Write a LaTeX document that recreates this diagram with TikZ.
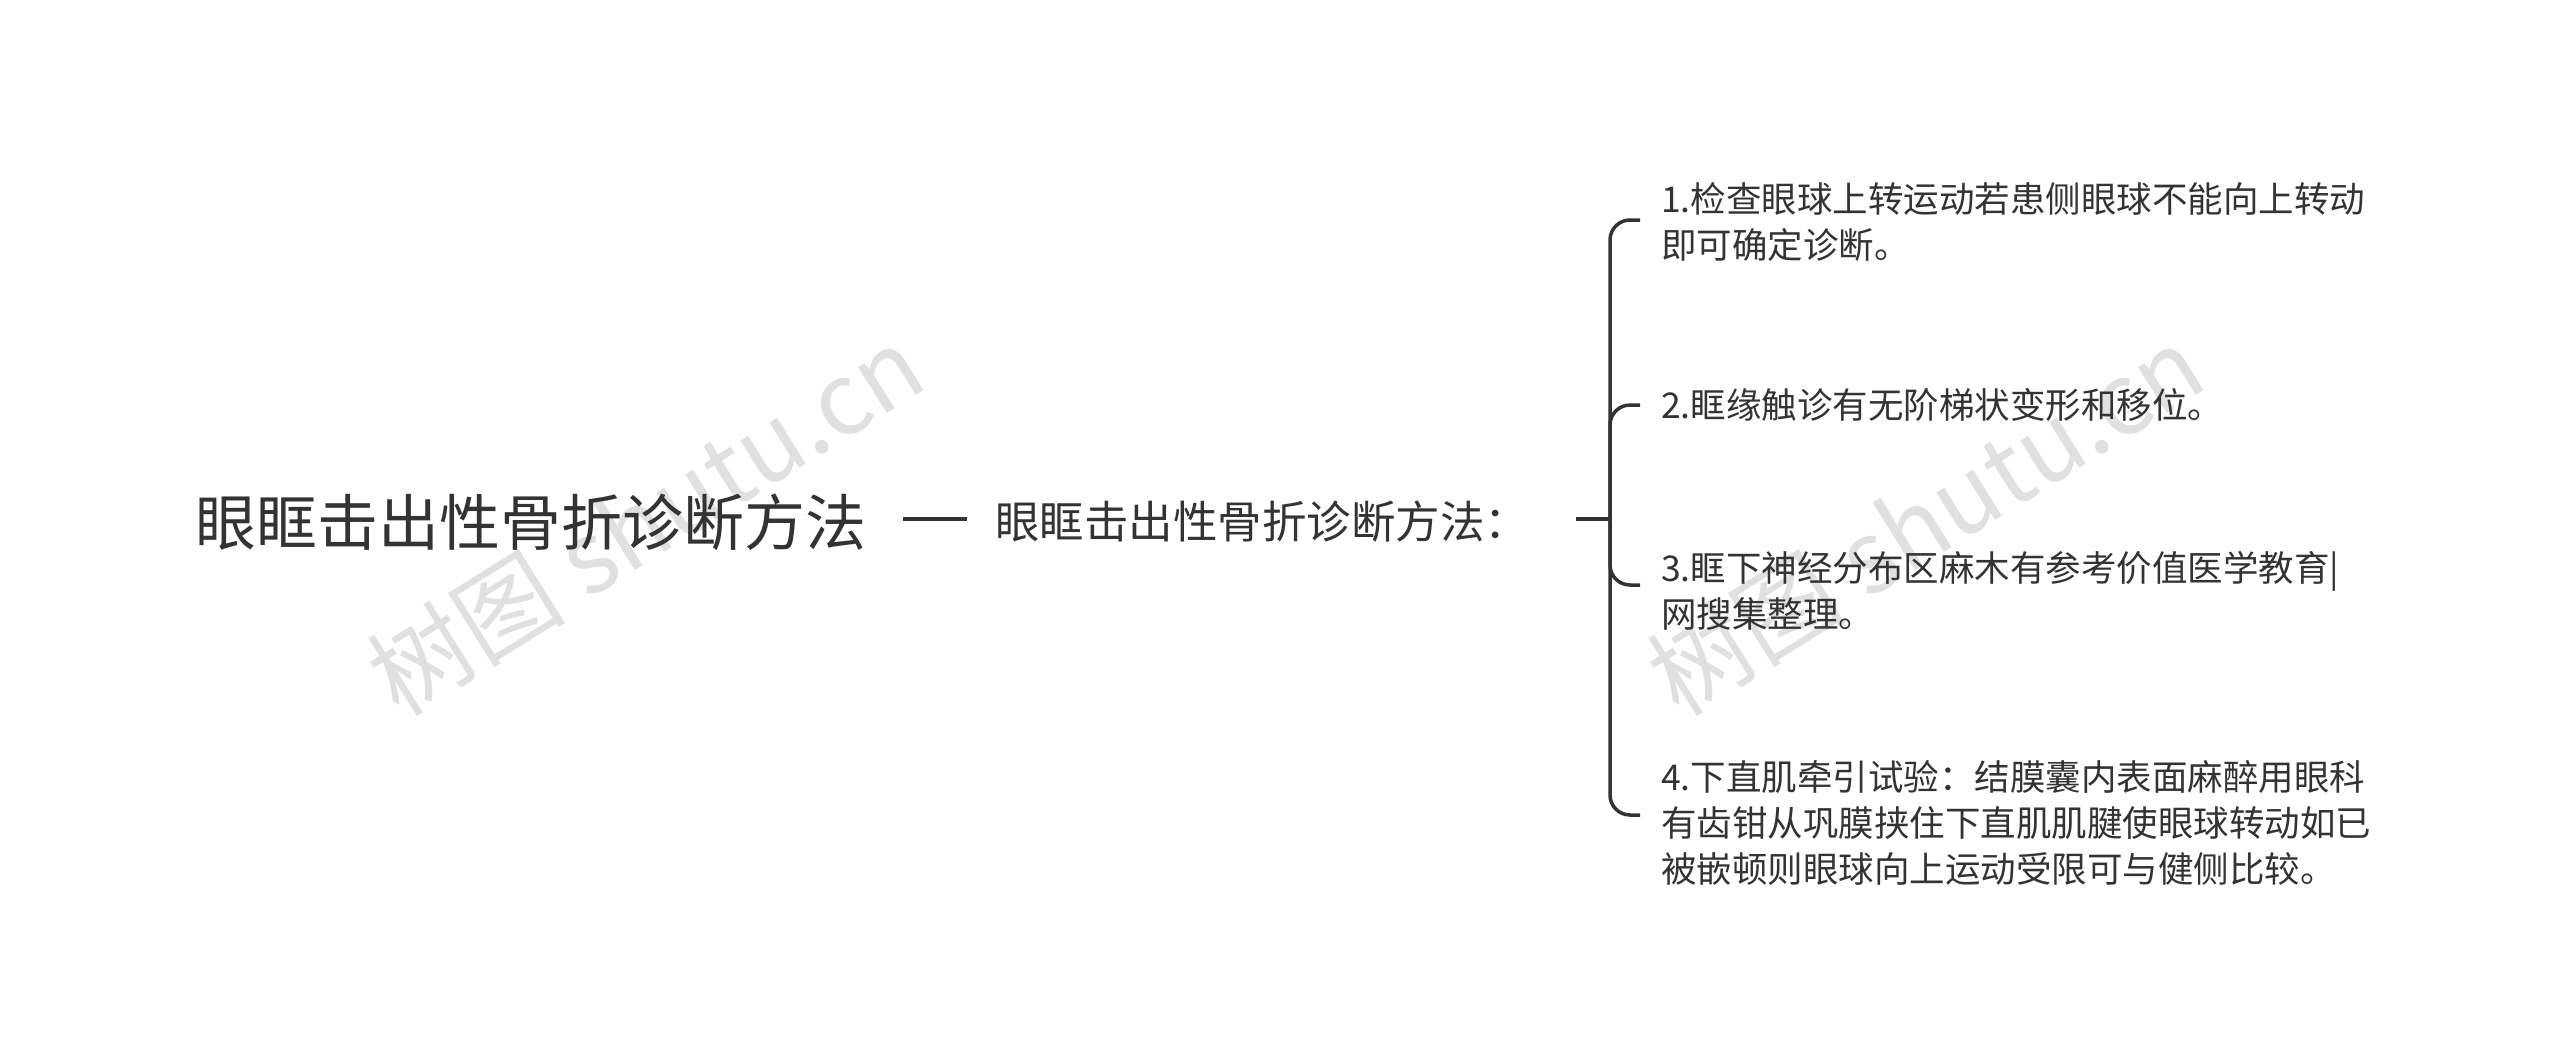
\documentclass[tikz,border=0pt]{standalone}
\usepackage{fontspec}
\setmainfont{Noto Sans CJK SC}
\begin{document}
\begin{tikzpicture}[x=1pt,y=-1pt,
  txt/.style={text=black!80,inner sep=0pt},
  ln/.style={draw=black!80,line width=3.5pt},
  item/.style={txt,anchor=west,align=left,font=\fontsize{35.5}{46}\selectfont},
  wm/.style={text=black!12,font=\fontsize{100}{110}\selectfont,rotate=32}]
\useasboundingbox (0,0) rectangle (2560,1063);
\node[wm] (w1) at (645,520) {树图 shutu.cn};
\node[wm] (w2) at (1925,520) {树图 shutu.cn};
\node[txt,font=\fontsize{61}{64}\selectfont] (root) at (531,522) {眼眶击出性骨折诊断方法};
\node[txt,font=\fontsize{44.5}{48}\selectfont,anchor=west] (mid) at (995,522) {眼眶击出性骨折诊断方法：};
\coordinate (l1) at (903,519);
\coordinate (l2) at (967,519);
\draw[ln] (l1) -- (l2);
\coordinate (s0) at (1576,519);
\coordinate (sp) at (1610,519);
\draw[ln] (s0) -- (sp);
\node[item] (i1) at (1661,222) {1.检查眼球上转运动若患侧眼球不能向上转动\\即可确定诊断。};
\node[item] (i2) at (1661,405) {2.眶缘触诊有无阶梯状变形和移位。};
\node[item] (i3) at (1661,591) {3.眶下神经分布区麻木有参考价值医学教育|\\网搜集整理。};
\node[item] (i4) at (1661,823) {4.下直肌牵引试验：结膜囊内表面麻醉用眼科\\有齿钳从巩膜挟住下直肌肌腱使眼球转动如已\\被嵌顿则眼球向上运动受限可与健侧比较。};
\coordinate (b1) at (1640,220);
\coordinate (b2) at (1640,405);
\coordinate (b3) at (1640,585);
\coordinate (b4) at (1640,815);
\draw[ln,rounded corners=20pt] (b1) -| (sp) |- (b4);
\draw[ln,rounded corners=20pt] (b2) -| (sp);
\draw[ln,rounded corners=20pt] (b3) -| (sp);
\end{tikzpicture}
\end{document}
